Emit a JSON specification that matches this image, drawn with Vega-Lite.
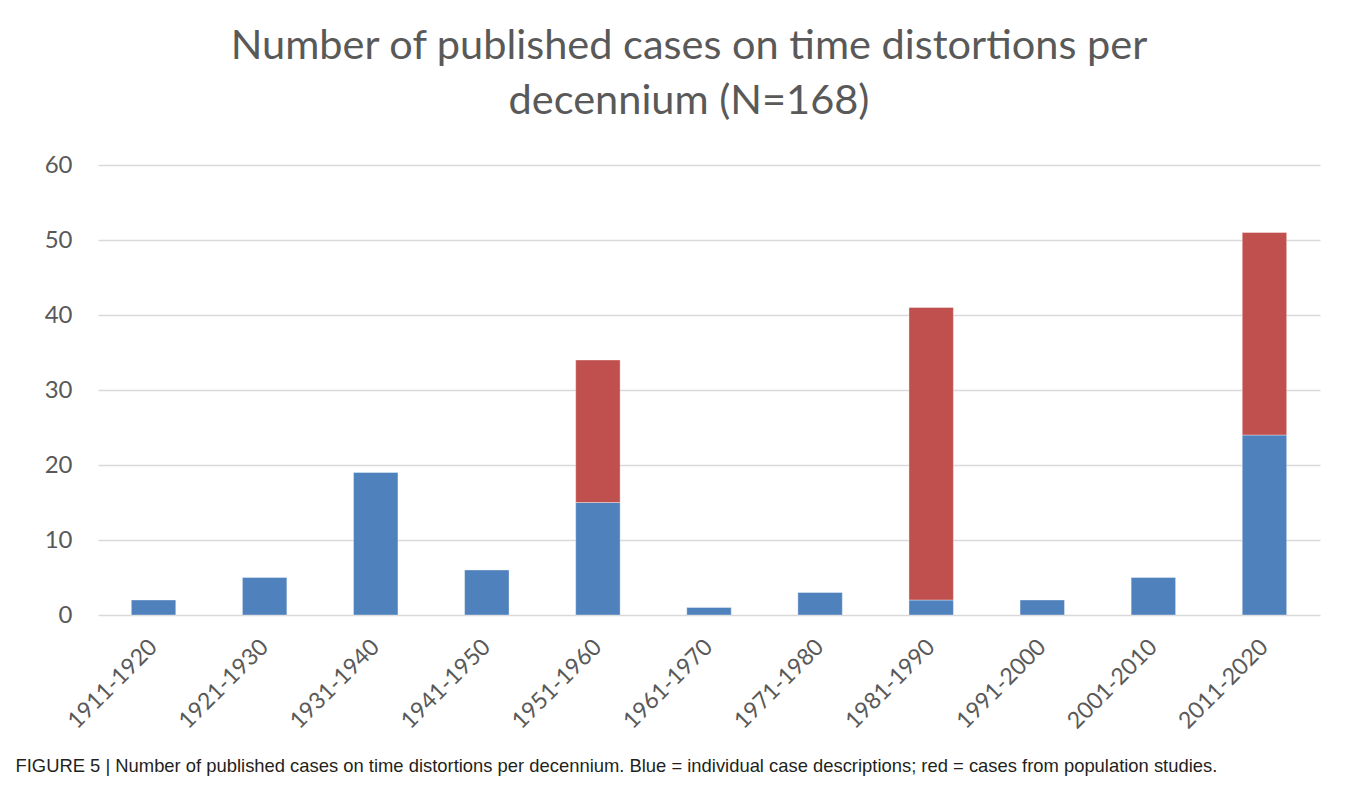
{
  "$schema": "https://vega.github.io/schema/vega-lite/v6.json",
  "autosize": "none",
  "padding": {"left": 98, "top": 165, "right": 38, "bottom": 197},
  "width": 1222,
  "height": 450,
  "background": "white",
  "title": {
    "text": ["Number of published cases on time distortions per", "decennium (N=168)"],
    "font": "Lato",
    "fontSize": 41.5,
    "fontWeight": "normal",
    "color": "#595959",
    "lineHeight": 55,
    "anchor": "middle",
    "dx": -20,
    "offset": 31
  },
  "data": {
    "values": [
      {"decade": "1911-1920", "type": "individual", "order": 1, "count": 2},
      {"decade": "1921-1930", "type": "individual", "order": 1, "count": 5},
      {"decade": "1931-1940", "type": "individual", "order": 1, "count": 19},
      {"decade": "1941-1950", "type": "individual", "order": 1, "count": 6},
      {"decade": "1951-1960", "type": "individual", "order": 1, "count": 15},
      {"decade": "1951-1960", "type": "population", "order": 2, "count": 19},
      {"decade": "1961-1970", "type": "individual", "order": 1, "count": 1},
      {"decade": "1971-1980", "type": "individual", "order": 1, "count": 3},
      {"decade": "1981-1990", "type": "individual", "order": 1, "count": 2},
      {"decade": "1981-1990", "type": "population", "order": 2, "count": 39},
      {"decade": "1991-2000", "type": "individual", "order": 1, "count": 2},
      {"decade": "2001-2010", "type": "individual", "order": 1, "count": 5},
      {"decade": "2011-2020", "type": "individual", "order": 1, "count": 24},
      {"decade": "2011-2020", "type": "population", "order": 2, "count": 27}
    ]
  },
  "mark": {"type": "bar", "stroke": "#ffffff", "strokeWidth": 0.6, "strokeOpacity": 0.6},
  "encoding": {
    "x": {
      "field": "decade",
      "type": "nominal",
      "sort": null,
      "scale": {"paddingInner": 0.6, "paddingOuter": 0.3},
      "axis": {
        "title": "FIGURE 5 | Number of published cases on time distortions per decennium. Blue = individual case descriptions; red = cases from population studies.",
        "titleFont": "Liberation Sans",
        "titleFontSize": 18.4,
        "titleFontWeight": "normal",
        "titleColor": "#231f20",
        "titleAnchor": "start",
        "titleAlign": "left",
        "titleBaseline": "middle",
        "titleX": -83,
        "titleY": 150,
        "labelAngle": -45,
        "labelAlign": "right",
        "labelBaseline": "middle",
        "labelFont": "Lato",
        "labelFontSize": 23,
        "labelColor": "#595959",
        "labelPadding": 28,
        "ticks": false,
        "domain": false,
        "grid": false
      }
    },
    "y": {
      "field": "count",
      "type": "quantitative",
      "stack": "zero",
      "scale": {"domain": [0, 60], "nice": false},
      "axis": {
        "title": null,
        "values": [0, 10, 20, 30, 40, 50, 60],
        "labelFont": "Lato",
        "labelFontSize": 24,
        "labelColor": "#595959",
        "labelPadding": 26,
        "ticks": false,
        "domain": false,
        "grid": true,
        "gridColor": "#d9d9d9",
        "gridWidth": 1.5
      }
    },
    "color": {
      "field": "type",
      "type": "nominal",
      "scale": {"domain": ["individual", "population"], "range": ["#4f81bd", "#c0504d"]},
      "legend": null
    },
    "order": {"field": "order", "type": "quantitative"}
  },
  "config": {"view": {"stroke": null}}
}
